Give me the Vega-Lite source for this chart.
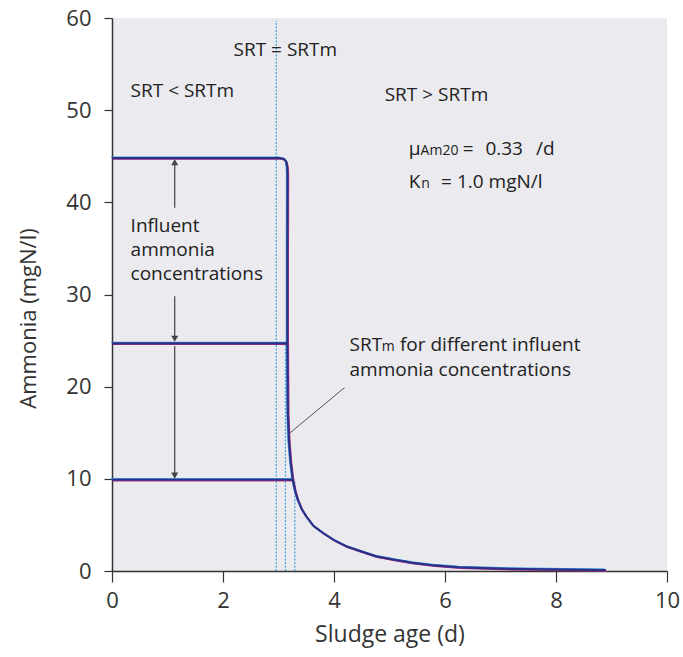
{
  "$schema": "https://vega.github.io/schema/vega-lite/v6.json",
  "width": 555,
  "height": 553,
  "autosize": "none",
  "padding": {"left": 112, "top": 18, "right": 16, "bottom": 86},
  "background": "white",
  "config": {
    "view": {"fill": "#eaeaef", "stroke": null},
    "font": "Open Sans",
    "text": {"font": "Open Sans"}
  },
  "datasets": {
    "curves": [
      {"s": "A", "i": 0, "x": 0, "y": 44.8},
      {"s": "A", "i": 1, "x": 3.02, "y": 44.8},
      {"s": "A", "i": 2, "x": 3.1, "y": 44.7},
      {"s": "A", "i": 3, "x": 3.14, "y": 44.4},
      {"s": "A", "i": 4, "x": 3.158, "y": 43.8},
      {"s": "A", "i": 5, "x": 3.163, "y": 43.0},
      {"s": "A", "i": 6, "x": 3.16, "y": 35},
      {"s": "A", "i": 7, "x": 3.16, "y": 25},
      {"s": "A", "i": 8, "x": 3.17, "y": 17},
      {"s": "A", "i": 9, "x": 3.19, "y": 14},
      {"s": "A", "i": 10, "x": 3.22, "y": 11.8},
      {"s": "A", "i": 11, "x": 3.258, "y": 9.9},
      {"s": "A", "i": 12, "x": 3.3, "y": 8.7},
      {"s": "A", "i": 13, "x": 3.348, "y": 7.74},
      {"s": "A", "i": 14, "x": 3.42, "y": 6.7},
      {"s": "A", "i": 15, "x": 3.5, "y": 5.93},
      {"s": "A", "i": 16, "x": 3.63, "y": 4.9},
      {"s": "A", "i": 17, "x": 3.8, "y": 4.13},
      {"s": "A", "i": 18, "x": 4.0, "y": 3.35},
      {"s": "A", "i": 19, "x": 4.22, "y": 2.68},
      {"s": "A", "i": 20, "x": 4.5, "y": 2.1},
      {"s": "A", "i": 21, "x": 4.76, "y": 1.59},
      {"s": "A", "i": 22, "x": 5.1, "y": 1.2},
      {"s": "A", "i": 23, "x": 5.42, "y": 0.88},
      {"s": "A", "i": 24, "x": 5.8, "y": 0.6},
      {"s": "A", "i": 25, "x": 6.26, "y": 0.4},
      {"s": "A", "i": 26, "x": 7.0, "y": 0.25},
      {"s": "A", "i": 27, "x": 7.8, "y": 0.17},
      {"s": "A", "i": 28, "x": 8.9, "y": 0.1},
      {"s": "B", "i": 0, "x": 0, "y": 24.7},
      {"s": "B", "i": 1, "x": 3.16, "y": 24.7},
      {"s": "C", "i": 0, "x": 0, "y": 9.9},
      {"s": "C", "i": 1, "x": 3.258, "y": 9.9}
    ],
    "srtm": [
      {"x": 2.96, "y0": 0, "y1": 59.7},
      {"x": 3.125, "y0": 0, "y1": 24.7},
      {"x": 3.295, "y0": 0, "y1": 9.9}
    ],
    "arrows": [
      {"x": 1.13, "y0": 44.5, "y1": 39.4},
      {"x": 1.13, "y0": 29.8, "y1": 25.1},
      {"x": 1.13, "y0": 24.4, "y1": 10.3}
    ],
    "heads": [
      {"x": 1.13, "y": 44.35, "dir": "up"},
      {"x": 1.13, "y": 25.2, "dir": "down"},
      {"x": 1.13, "y": 10.35, "dir": "down"}
    ],
    "leader": [
      {"x": 4.19, "y": 19.9, "x2": 3.21, "y2": 15.0}
    ],
    "labels": [
      {"x": 2.19, "y": 55.88, "t": "SRT = SRTm"},
      {"x": 0.335, "y": 51.47, "t": "SRT < SRTm"},
      {"x": 4.913, "y": 50.96, "t": "SRT > SRTm"},
      {"x": 5.347, "y": 45.15, "t": "μ"},
      {"x": 6.319, "y": 45.15, "t": "="},
      {"x": 6.728, "y": 45.15, "t": "0.33"},
      {"x": 7.641, "y": 45.15, "t": "/d"},
      {"x": 5.347, "y": 41.53, "t": "K"},
      {"x": 5.93, "y": 41.53, "t": "= 1.0 mgN/l"},
      {"x": 0.335, "y": 36.77, "t": "Influent"},
      {"x": 0.335, "y": 34.15, "t": "ammonia"},
      {"x": 0.335, "y": 31.54, "t": "concentrations"},
      {"x": 4.279, "y": 23.82, "t": "SRT"},
      {"x": 5.188, "y": 23.82, "t": "for different influent"},
      {"x": 4.279, "y": 21.19, "t": "ammonia concentrations"}
    ],
    "subs": [
      {"x": 5.56, "y": 45.15, "t": "Am20"},
      {"x": 5.57, "y": 41.53, "t": "n"},
      {"x": 4.86, "y": 23.82, "t": "m"}
    ]
  },
  "layer": [
    {
      "data": {"name": "srtm"},
      "mark": {"type": "rule", "color": "#3fa3dc", "strokeWidth": 1.2, "strokeDash": [2, 1.5]},
      "encoding": {
        "x": {
          "field": "x", "type": "quantitative",
          "scale": {"domain": [0, 10], "nice": false, "zero": false},
          "axis": {
            "values": [0, 2, 4, 6, 8, 10],
            "grid": false,
            "title": "Sludge age (d)",
            "titleFont": "Open Sans",
            "titleFontSize": 23,
            "titleFontWeight": "normal",
            "titleColor": "#333",
            "titleBaseline": "alphabetic",
            "titleY": 70,
            "labelFont": "Open Sans",
            "labelFontSize": 22,
            "labelColor": "#333",
            "labelPadding": 8,
            "labelFlush": false,
            "tickSize": 11,
            "tickColor": "#333",
            "tickWidth": 1.2,
            "domainColor": "#333",
            "domainWidth": 1.5
          }
        },
        "y": {
          "field": "y0", "type": "quantitative",
          "scale": {"domain": [0, 60], "nice": false, "zero": false},
          "axis": {
            "values": [0, 10, 20, 30, 40, 50, 60],
            "grid": false,
            "title": "Ammonia (mgN/l)",
            "titleFont": "Open Sans",
            "titleFontSize": 22,
            "titleFontWeight": "normal",
            "titleColor": "#333",
            "titleAngle": -90,
            "titleAlign": "center",
            "titleBaseline": "alphabetic",
            "titleX": -77,
            "titleY": 300,
            "labelFont": "Open Sans",
            "labelFontSize": 22,
            "labelColor": "#333",
            "labelPadding": 13,
            "labelFlush": false,
            "tickSize": 8,
            "tickColor": "#333",
            "tickWidth": 1.2,
            "domainColor": "#333",
            "domainWidth": 1.5
          }
        },
        "y2": {"field": "y1"}
      }
    },
    {
      "data": {"name": "curves"},
      "mark": {"type": "line", "color": "#3a9be0", "strokeWidth": 1.3, "xOffset": -1, "yOffset": -1},
      "encoding": {
        "x": {"field": "x", "type": "quantitative"},
        "y": {"field": "y", "type": "quantitative"},
        "detail": {"field": "s"},
        "order": {"field": "i", "type": "quantitative"}
      }
    },
    {
      "data": {"name": "curves"},
      "mark": {"type": "line", "color": "#c8307a", "strokeWidth": 1.3, "xOffset": 1, "yOffset": 1},
      "encoding": {
        "x": {"field": "x", "type": "quantitative"},
        "y": {"field": "y", "type": "quantitative"},
        "detail": {"field": "s"},
        "order": {"field": "i", "type": "quantitative"}
      }
    },
    {
      "data": {"name": "curves"},
      "mark": {"type": "line", "color": "#2b318a", "strokeWidth": 2.2},
      "encoding": {
        "x": {"field": "x", "type": "quantitative"},
        "y": {"field": "y", "type": "quantitative"},
        "detail": {"field": "s"},
        "order": {"field": "i", "type": "quantitative"}
      }
    },
    {
      "data": {"name": "arrows"},
      "mark": {"type": "rule", "color": "#444", "strokeWidth": 1.2},
      "encoding": {
        "x": {"field": "x", "type": "quantitative"},
        "y": {"field": "y0", "type": "quantitative"},
        "y2": {"field": "y1"}
      }
    },
    {
      "data": {"name": "heads"},
      "mark": {"type": "point", "filled": true, "color": "#444", "size": 50, "opacity": 1},
      "encoding": {
        "x": {"field": "x", "type": "quantitative"},
        "y": {"field": "y", "type": "quantitative"},
        "shape": {
          "field": "dir", "type": "nominal",
          "scale": {"domain": ["up", "down"], "range": ["triangle-up", "triangle-down"]},
          "legend": null
        }
      }
    },
    {
      "data": {"name": "leader"},
      "mark": {"type": "rule", "color": "#555", "strokeWidth": 1},
      "encoding": {
        "x": {"field": "x", "type": "quantitative"},
        "y": {"field": "y", "type": "quantitative"},
        "x2": {"field": "x2"},
        "y2": {"field": "y2"}
      }
    },
    {
      "data": {"name": "labels"},
      "mark": {"type": "text", "align": "left", "baseline": "alphabetic", "fontSize": 19, "color": "#222", "font": "Open Sans"},
      "encoding": {
        "x": {"field": "x", "type": "quantitative"},
        "y": {"field": "y", "type": "quantitative"},
        "text": {"field": "t"}
      }
    },
    {
      "data": {"name": "subs"},
      "mark": {"type": "text", "align": "left", "baseline": "alphabetic", "fontSize": 14, "color": "#222", "font": "Open Sans"},
      "encoding": {
        "x": {"field": "x", "type": "quantitative"},
        "y": {"field": "y", "type": "quantitative"},
        "text": {"field": "t"}
      }
    }
  ]
}
